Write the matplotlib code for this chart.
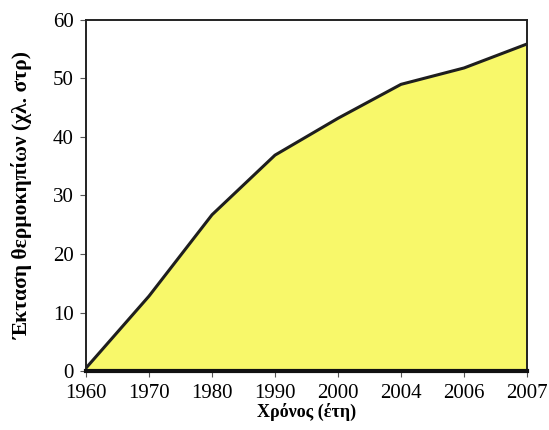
import matplotlib.pyplot as plt
import numpy as np

# Έκταση θερμοκηπίων ανά έτος
years = ['1960', '1970', '1980', '1990', '2000', '2004', '2006', '2007']
area = [0.5, 12.8, 26.7, 36.9, 43.2, 49.0, 51.8, 55.9]

plt.rcParams['font.family'] = ['Liberation Serif', 'DejaVu Serif']

fig = plt.figure(figsize=(5.49, 4.30), dpi=100)
ax = fig.add_axes([0.1566, 0.1372, 0.8034, 0.8163])

x = np.arange(len(years))
ax.fill_between(x, 0, area, color='#f8f86a', zorder=1)
ax.plot(x, area, color='#1e1e1e', linewidth=2.2, zorder=2)

ax.set_xlim(0, len(years) - 1)
ax.set_ylim(0, 60)
ax.set_xticks(x)
ax.set_xticklabels(years)
ax.set_yticks(range(0, 61, 10))
ax.tick_params(axis='both', labelsize=15, length=4, width=0.8, color='#555555')
ax.tick_params(axis='x', pad=5)
ax.tick_params(axis='y', pad=5)

for side in ['left', 'right', 'top']:
    ax.spines[side].set_linewidth(1.4)
    ax.spines[side].set_color('#222222')
ax.spines['bottom'].set_linewidth(3)
ax.spines['bottom'].set_color('#111111')

ax.set_ylabel('Έκταση θερμοκηπίων (χλ. στρ)', fontsize=15.5, fontweight='bold', labelpad=14)
ax.set_xlabel('Χρόνος (έτη)', fontsize=13, fontweight='bold', labelpad=0)

fig.savefig('out.png', dpi=100)
